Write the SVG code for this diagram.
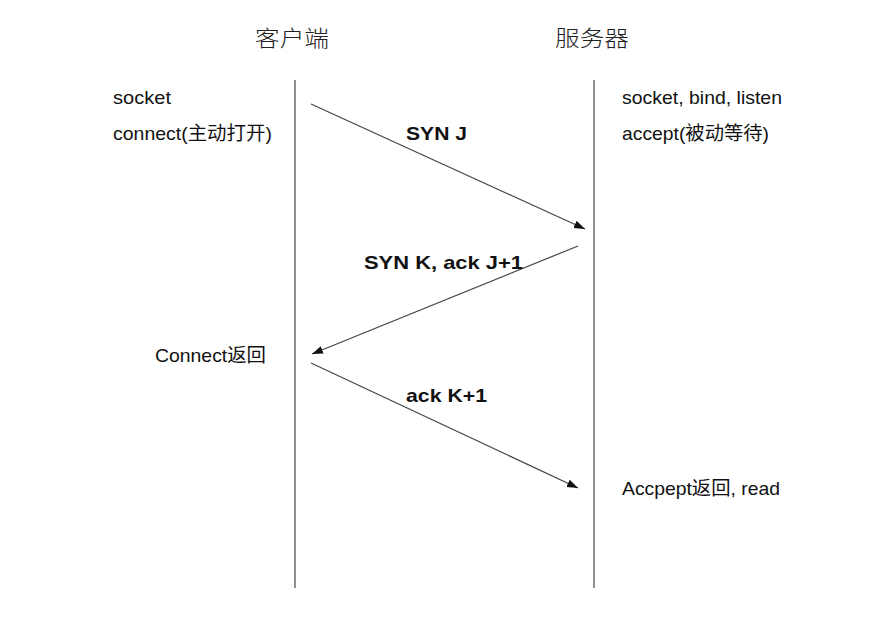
<svg xmlns="http://www.w3.org/2000/svg" width="888" height="627" viewBox="0 0 888 627">
<defs>
<style>
.t{font-family:"Liberation Sans","Noto Sans CJK SC",Arial,sans-serif;font-size:19px;fill:#111}
.b{font-weight:bold}
.h{font-family:"Noto Sans CJK SC","Liberation Sans",sans-serif;font-size:22px;font-weight:300;fill:#222}
.life{stroke:#555;stroke-width:1.3;fill:none}
.msg{stroke:#444;stroke-width:1.2;fill:none;marker-end:url(#ah)}
</style>
<marker id="ah" markerUnits="userSpaceOnUse" markerWidth="12" markerHeight="10" viewBox="0 0 12 10" refX="11" refY="5" orient="auto">
<path d="M0,1 L11,5 L0,9 Z" fill="#111"/>
</marker>
</defs>
<rect width="888" height="627" fill="#fff"/>
<g id="client">
<text class="h" x="255" y="46" textLength="74" lengthAdjust="spacingAndGlyphs">客户端</text>
<line class="life" x1="295" y1="80" x2="295" y2="588"/>
<text class="t" x="113" y="104" textLength="58" lengthAdjust="spacingAndGlyphs">socket</text>
<text class="t" x="113" y="140" textLength="159" lengthAdjust="spacingAndGlyphs">connect(主动打开)</text>
<text class="t" x="155" y="362" textLength="111" lengthAdjust="spacingAndGlyphs">Connect返回</text>
</g>
<g id="server">
<text class="h" x="555" y="46" textLength="74" lengthAdjust="spacingAndGlyphs">服务器</text>
<line class="life" x1="594" y1="80" x2="594" y2="588"/>
<text class="t" x="622" y="104" textLength="160" lengthAdjust="spacingAndGlyphs">socket, bind, listen</text>
<text class="t" x="622" y="140" textLength="147" lengthAdjust="spacingAndGlyphs">accept(被动等待)</text>
<text class="t" x="622" y="495" textLength="158" lengthAdjust="spacingAndGlyphs">Accpept返回, read</text>
</g>
<g id="connectors">
<line class="msg" x1="311" y1="104" x2="585" y2="229"/>
<line class="msg" x1="578" y1="246" x2="312" y2="354"/>
<line class="msg" x1="311" y1="363" x2="578" y2="488"/>
<text class="t b" x="406" y="140" textLength="61" lengthAdjust="spacingAndGlyphs">SYN J</text>
<text class="t b" x="364" y="269" textLength="159" lengthAdjust="spacingAndGlyphs">SYN K, ack J+1</text>
<text class="t b" x="406" y="402" textLength="81" lengthAdjust="spacingAndGlyphs">ack K+1</text>
</g>
</svg>
